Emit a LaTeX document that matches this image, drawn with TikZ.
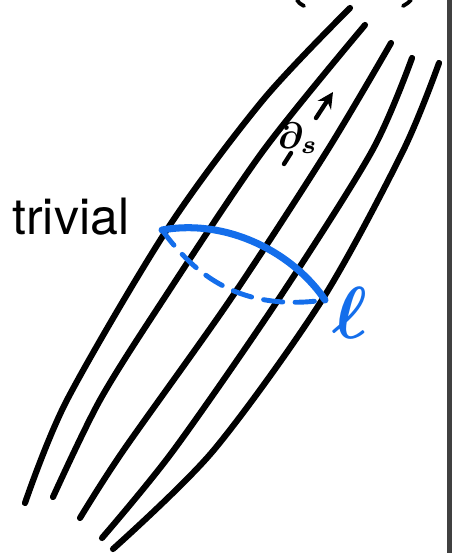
\documentclass[tikz,border=0pt]{standalone}
\usepackage{amsmath,bm}
\usepackage{fontspec}
\newfontfamily\helvfont{TeX Gyre Heros}
\usetikzlibrary{arrows.meta}
\definecolor{penblue}{RGB}{20,110,235}

\begin{document}
\begin{tikzpicture}[x=0.02cm, y=-0.02cm, line cap=round, line join=round,
  leaf/.style={line width=3.5pt},
  every node/.style={inner sep=0pt}]
  \useasboundingbox (0,0) rectangle (452,553);
  \fill[black!75] (447,0) rectangle (452,553);
  \draw[line width=2.2pt] (297,0) .. controls (299,3) .. (304,6);
  \draw[line width=2.2pt] (403,6) .. controls (408,3) .. (411,0);
  \draw[leaf] plot[smooth] coordinates {(350,8) (263,100) (168,228) (67,400) (25,503)};
  \draw[leaf] plot[smooth] coordinates {(365,25) (263,151) (163,300) (100,400) (53,497)};
  \draw[leaf] plot[smooth] coordinates {(391,43) (327,151) (230,300) (123,451) (80,518)};
  \draw[leaf] plot[smooth] coordinates {(412,58) (372,151) (278,300) (173,451) (102,538)};
  \draw[leaf] plot[smooth] coordinates {(439,63) (403,151) (322,300) (213,451) (113,549)};
  \node[font=\helvfont\fontsize{28.5}{31}\selectfont, anchor=base west] (trivial) at (12,235) {trivial};
  \coordinate (triv) at (162,230);
  \coordinate (loopend) at (325,300);
  \draw[penblue, line width=4pt] (triv) .. controls (230,218) and (295,255) .. (loopend);
  \draw[penblue, line width=2.8pt, dash pattern=on 11pt off 7pt] (triv) .. controls (195,275) and (240,312) .. (loopend);
  \node[text=penblue] (ell) at (350,313) {\scalebox{4.2}{$\bm{\ell}$}};
  \node (ds) at (298,138) {\scalebox{2.1}{$\bm{\partial_s}$}};
  \coordinate (dstail) at (284,164);
  \coordinate (dsmid) at (291,153);
  \coordinate (dsfoot) at (316,118);
  \coordinate (dstip) at (333,92);
  \draw[line width=2.5pt] (dstail) -- (dsmid);
  \draw[line width=2.5pt, -{Stealth[length=9pt, width=9pt]}] (dsfoot) -- (dstip);
\end{tikzpicture}
\end{document}
